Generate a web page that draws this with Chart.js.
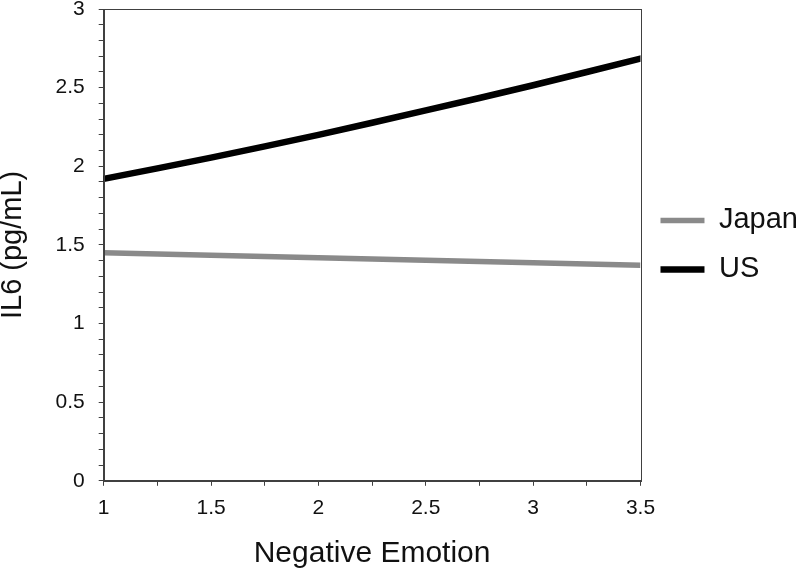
<!DOCTYPE html>
<html>
<head>
<meta charset="utf-8">
<script src="https://cdn.jsdelivr.net/npm/chart.js@4.4.0/dist/chart.umd.min.js"></script>
<style>
  body { margin: 0; background: #fff; }
  #wrap { width: 800px; height: 570px; }
</style>
</head>
<body>
<div id="wrap"><canvas id="myChart" width="800" height="570"></canvas></div>
<script>
const emotion = [1, 1.5, 2, 2.5, 3, 3.5];
const japan = [1.45, 1.434, 1.418, 1.402, 1.386, 1.37];
const us = [1.92, 2.055, 2.20, 2.355, 2.515, 2.685];
const xTicks = [1, 1.5, 2, 2.5, 3, 3.5];
const yTicks = [0, 0.5, 1, 1.5, 2, 2.5, 3];

const font = '"Liberation Sans", Arial, sans-serif';
const axisColor = '#404040';

const isMajor = (v, list) => list.some(t => Math.abs(t - v) < 1e-6);

// full box round the plot area
const frame = {
    id: 'frame',
    afterDraw(chart) {
        const { ctx, chartArea: a } = chart;
        ctx.save();
        ctx.strokeStyle = axisColor;
        ctx.lineWidth = 1;
        ctx.strokeRect(Math.round(a.left) + 0.5, Math.round(a.top) + 0.5,
            Math.round(a.right - a.left), Math.round(a.bottom - a.top));
        ctx.restore();
    }
};

const myChart = new Chart('myChart', {
    type: 'line',
    data: {
        datasets: [{
            label: 'Japan',
            data: emotion.map((x, i) => ({ x, y: japan[i] })),
            borderColor: '#8a8a8a',
            backgroundColor: '#8a8a8a',
            borderWidth: 5.5,
            pointRadius: 0,
            pointStyle: 'line',
            tension: 0.3
        }, {
            label: 'US',
            data: emotion.map((x, i) => ({ x, y: us[i] })),
            borderColor: '#000',
            backgroundColor: '#000',
            borderWidth: 6.5,
            borderCapStyle: 'round',
            pointRadius: 0,
            pointStyle: 'line',
            tension: 0.3
        }]
    },
    options: {
        responsive: false,
        animation: false,
        layout: { padding: { top: 0, right: -8, bottom: -2, left: -2 } },
        scales: {
            x: {
                type: 'linear',
                min: 1, max: 3.5,
                ticks: {
                    stepSize: 0.25,
                    autoSkip: false,
                    maxRotation: 0,
                    padding: 10,
                    color: '#111',
                    font: { family: font, size: 21 },
                    callback: v => isMajor(v, xTicks) ? String(v) : ''
                },
                grid: { drawOnChartArea: false, tickLength: 5, color: axisColor },
                border: { color: axisColor },
                title: {
                    display: true,
                    text: 'Negative Emotion',
                    color: '#111',
                    font: { family: font, size: 30 },
                    padding: { top: 5, bottom: 0 }
                }
            },
            y: {
                min: 0, max: 3,
                afterFit: scale => { scale.paddingTop = 9; },
                ticks: {
                    stepSize: 0.1,
                    autoSkip: false,
                    padding: 14,
                    color: '#111',
                    font: { family: font, size: 21, lineHeight: 1 },
                    callback: v => isMajor(v, yTicks) ? String(Math.round(v * 10) / 10) : ''
                },
                grid: { drawOnChartArea: false, tickLength: 5, color: axisColor },
                border: { color: axisColor },
                title: {
                    display: true,
                    text: 'IL6 (pg/mL)',
                    color: '#111',
                    font: { family: font, size: 29, lineHeight: 1 },
                    padding: { top: 0, bottom: 14.5 }
                }
            }
        },
        plugins: {
            legend: {
                position: 'right',
                fullSize: false,
                labels: {
                    color: '#111',
                    font: { family: font, size: 29 },
                    usePointStyle: true,
                    pointStyleWidth: 44,
                    boxHeight: 6,
                    padding: 20
                }
            },
            tooltip: { enabled: false }
        }
    },
    plugins: [frame]
});
</script>
</body>
</html>
